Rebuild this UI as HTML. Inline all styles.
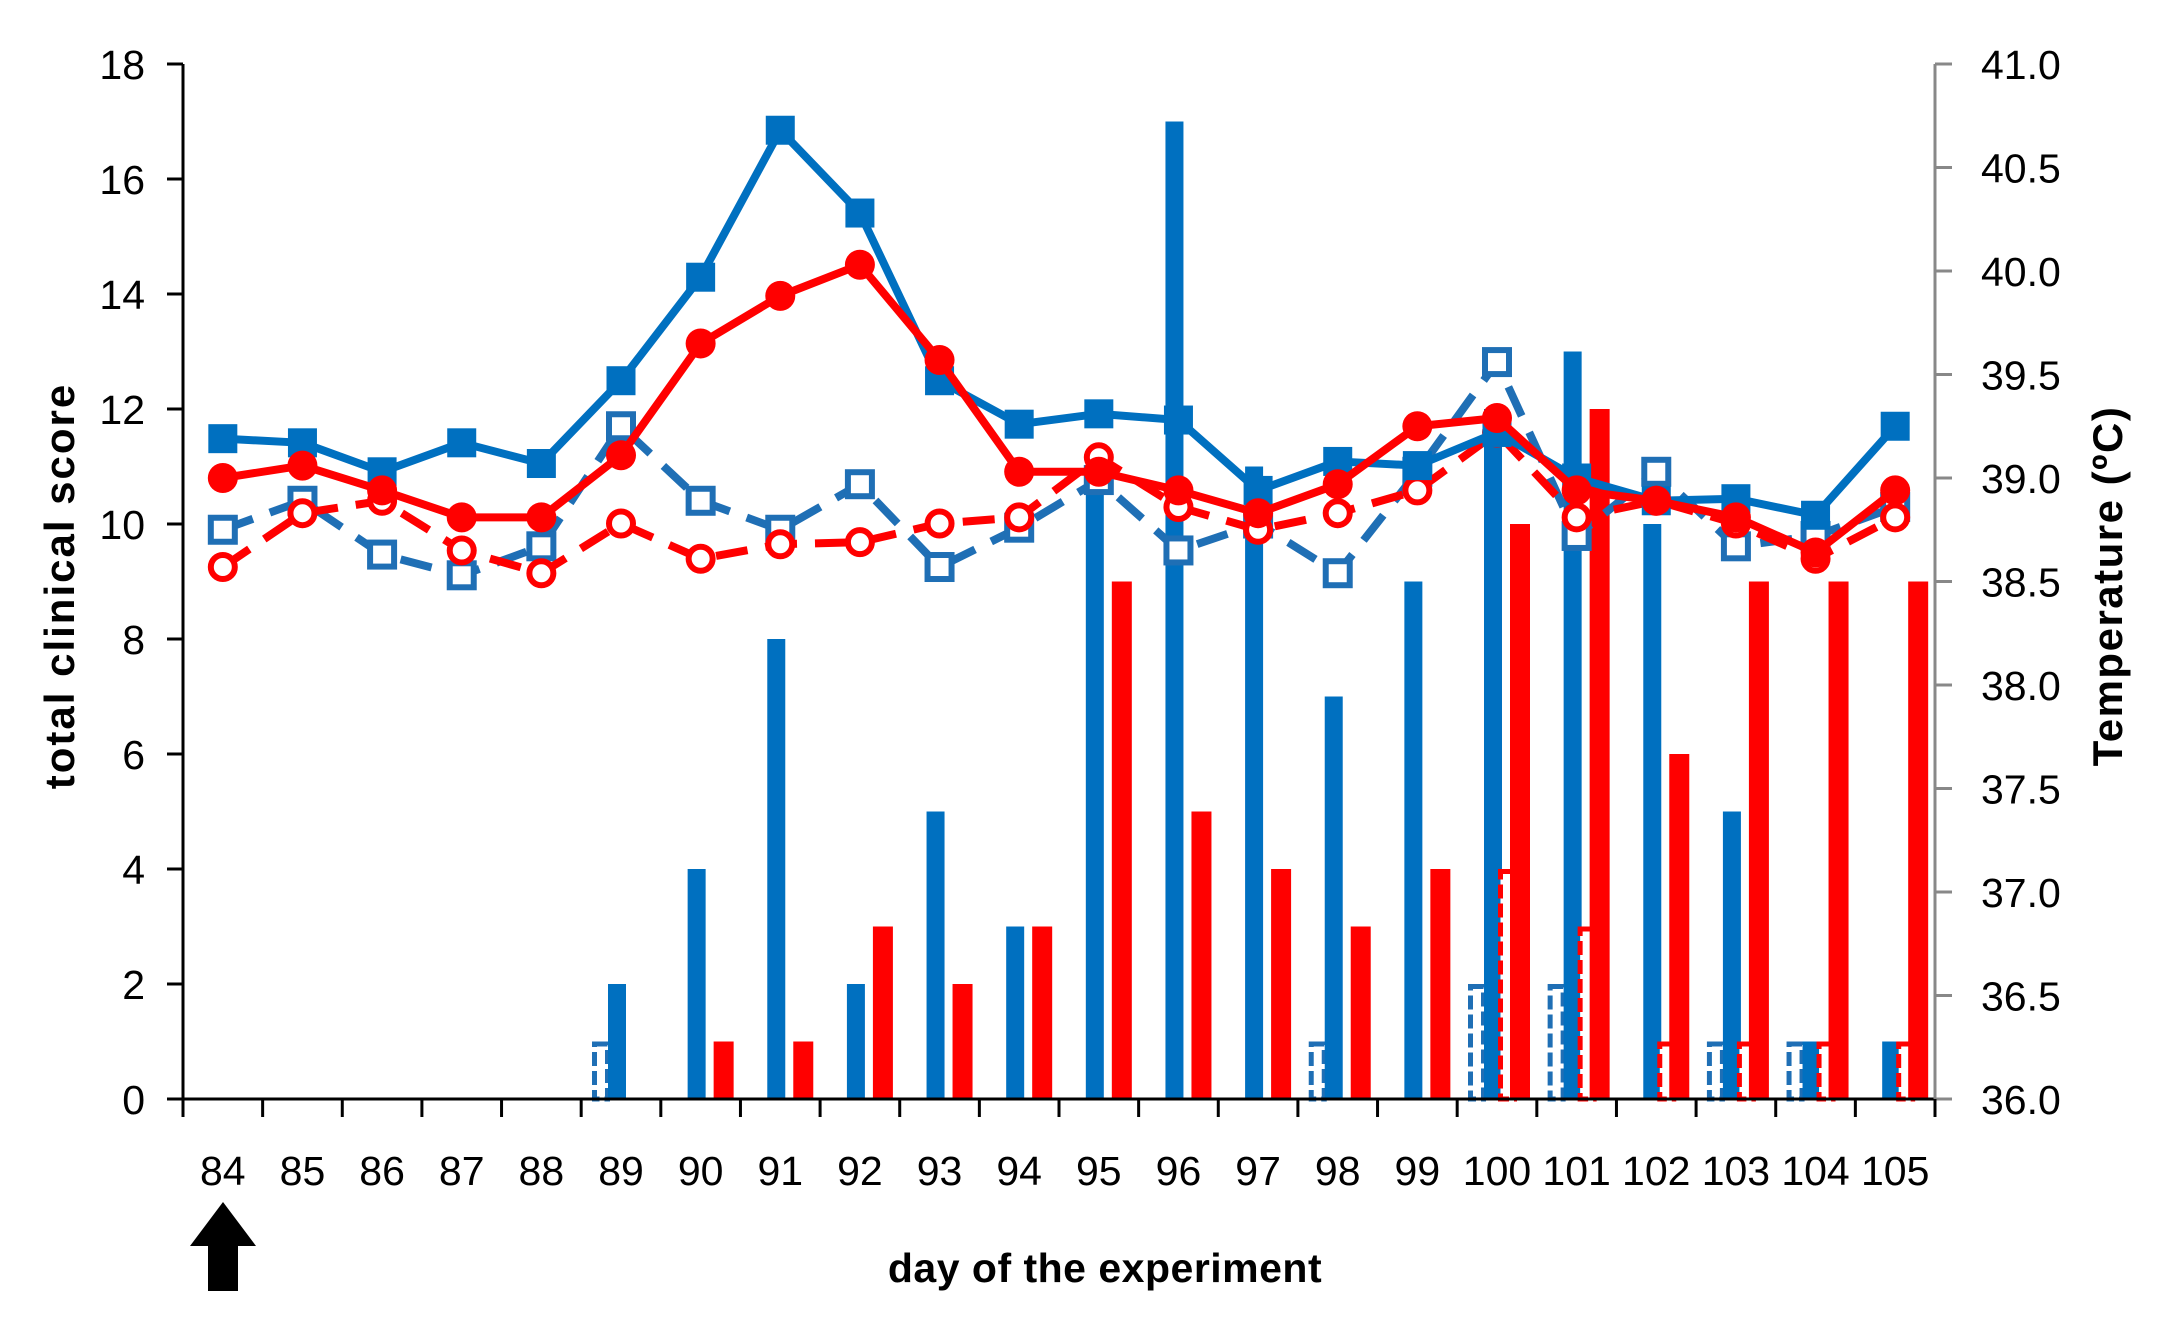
<!DOCTYPE html>
<html><head><meta charset="utf-8"><style>
html,body{margin:0;padding:0;background:#fff}
svg{display:block}
text{font-family:"Liberation Sans","DejaVu Sans",sans-serif}
</style></head><body>
<svg id="chart" width="2171" height="1324" viewBox="0 0 2171 1324" xmlns="http://www.w3.org/2000/svg">
<g id="bars"></g>
<g id="lines"></g>
<g id="axes"></g>
<text transform="translate(74,586) rotate(-90)" text-anchor="middle" font-size="42" font-weight="bold" letter-spacing="2">total clinical score</text>
<text transform="translate(2122,586) rotate(-90)" text-anchor="middle" font-size="42" font-weight="bold" letter-spacing="1.5">Temperature  (ºC)</text>
<text x="1105" y="1282" text-anchor="middle" font-size="41" font-weight="bold" letter-spacing="0.5">day of the experiment</text>
<polygon points="223,1202 256,1246 238,1246 238,1291 208,1291 208,1246 190,1246" fill="#000"/>
</svg>
<script>
const days=[84,85,86,87,88,89,90,91,92,93,94,95,96,97,98,99,100,101,102,103,104,105];
const blueSolidScore=[0,0,0,0,0,2,4,8,2,5,3,11,17,11,7,9,12,13,10,5,1,1];
const redSolidScore=[0,0,0,0,0,0,1,1,3,2,3,9,5,4,3,4,10,12,6,9,9,9];
const blueHollowScore=[0,0,0,0,0,1,0,0,0,0,0,0,0,0,1,0,2,2,0,1,1,0];
const redHollowScore=[0,0,0,0,0,0,0,0,0,0,0,0,0,0,0,0,4,3,1,1,1,1];
const tempBlueSolid=[39.19,39.17,39.03,39.17,39.07,39.47,39.97,40.68,40.28,39.47,39.26,39.31,39.28,38.94,39.08,39.06,39.22,39.0,38.89,38.9,38.82,39.25];
const tempRedSolid=[39.0,39.06,38.94,38.81,38.81,39.11,39.65,39.88,40.03,39.57,39.03,39.03,38.94,38.83,38.97,39.25,39.29,38.94,38.89,38.81,38.64,38.94];
const tempBlueHollow=[38.75,38.89,38.63,38.53,38.67,39.25,38.89,38.75,38.97,38.57,38.76,38.99,38.65,38.78,38.54,39.03,39.56,38.72,39.03,38.67,38.72,38.86];
const tempRedHollow=[38.57,38.83,38.89,38.65,38.54,38.78,38.61,38.68,38.69,38.78,38.81,39.10,38.86,38.75,38.83,38.94,39.22,38.81,38.89,38.78,38.61,38.81];
const scoreTicks=[0,2,4,6,8,10,12,14,16,18];
const tempTicks=["36.0","36.5","37.0","37.5","38.0","38.5","39.0","39.5","40.0","40.5","41.0"];

const NS="http://www.w3.org/2000/svg";
const L=183,R=1935,T=64,B=1099;
const cw=(R-L)/days.length;
const xc=i=>L+cw*(i+0.5);
const yS=v=>B-(B-T)*v/18;
const yT=t=>B-(B-T)*(t-36)/5;
const BLUE="#0070C0",RED="#FF0000",BLUE2="#1F6FB5";
function mk(tag,attrs,parent){const e=document.createElementNS(NS,tag);for(const k in attrs)e.setAttribute(k,attrs[k]);parent.appendChild(e);return e;}
const gb=document.getElementById('bars'),gl=document.getElementById('lines'),ga=document.getElementById('axes');

function bars(arr,off,w,fill,stroke,name){
  arr.forEach((v,i)=>{if(v<=0)return;
    const x=xc(i)+off,y=yS(v);
    const r=mk('rect',{x:x,y:y,width:w,height:B-y,fill:fill},gb);
    if(stroke){r.setAttribute('stroke',stroke);r.setAttribute('stroke-width','5');r.setAttribute('stroke-dasharray','14 5');r.setAttribute('x',x+2.5);r.setAttribute('width',w-5);r.setAttribute('y',y+2.5);r.setAttribute('height',B-y-2.5);}
    
    
  });
}
bars(blueHollowScore,-29,18,"#fff",BLUE2,'bar-blue-hollow');
bars(blueSolidScore,-13,18,BLUE,null,'bar-blue');
bars(redHollowScore,1,19,"#fff",RED,'bar-red-hollow');
bars(redSolidScore,13,20,RED,null,'bar-red');

function line(arr,color,dashed,marker,hollow,name){
  const pts=arr.map((t,i)=>xc(i)+','+yT(t)).join(' ');
  const p=mk('polyline',{points:pts,fill:'none',stroke:color,'stroke-width':8,'stroke-linejoin':'round'},gl);
  if(dashed)p.setAttribute('stroke-dasharray','32 18');
  
  
  arr.forEach((t,i)=>{
    let m;const x=xc(i),y=yT(t);
    if(marker==='sq'){const s=hollow?24:29;m=mk('rect',{x:x-s/2,y:y-s/2,width:s,height:s,fill:hollow?'#fff':color},gl);if(hollow){m.setAttribute('stroke',color);m.setAttribute('stroke-width','6');}}
    else{m=mk('circle',{cx:x,cy:y,r:hollow?12:15,fill:hollow?'#fff':color},gl);if(hollow){m.setAttribute('stroke',color);m.setAttribute('stroke-width','6');}}
    
    
  });
}
line(tempBlueHollow,BLUE2,true,'sq',true,'temp-blue-dashed');
line(tempRedHollow,RED,true,'ci',true,'temp-red-dashed');
line(tempBlueSolid,BLUE,false,'sq',false,'temp-blue-solid');
line(tempRedSolid,RED,false,'ci',false,'temp-red-solid');

const ax=mk('line',{x1:L,y1:T,x2:L,y2:B,stroke:'#000','stroke-width':3},ga);

const bx=mk('line',{x1:L-16,y1:B,x2:R,y2:B,stroke:'#000','stroke-width':3},ga);

const rx=mk('line',{x1:R,y1:T,x2:R,y2:B,stroke:'#888','stroke-width':3},ga);

scoreTicks.forEach(v=>{
  mk('line',{x1:L-16,y1:yS(v),x2:L,y2:yS(v),stroke:'#000','stroke-width':3},ga);
  const t=mk('text',{x:L-38,y:yS(v)+15,'text-anchor':'end','font-size':41},ga);t.textContent=v;
  
});
tempTicks.forEach(s=>{const v=parseFloat(s);
  mk('line',{x1:R,y1:yT(v),x2:R+17,y2:yT(v),stroke:'#888','stroke-width':3},ga);
  const t=mk('text',{x:R+46,y:yT(v)+15,'text-anchor':'start','font-size':41},ga);t.textContent=s;
  
});
for(let i=0;i<=days.length;i++){mk('line',{x1:L+cw*i,y1:B,x2:L+cw*i,y2:B+18,stroke:'#000','stroke-width':3},ga);}
days.forEach((d,i)=>{const t=mk('text',{x:xc(i),y:1185,'text-anchor':'middle','font-size':41},ga);t.textContent=d;
  });
</script>
</body></html>
